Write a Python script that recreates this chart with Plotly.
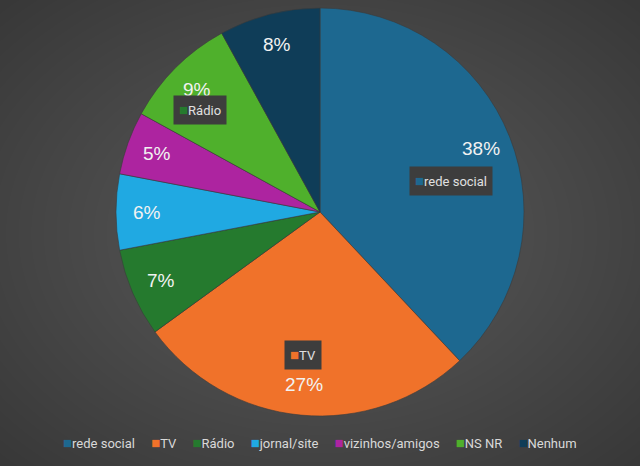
import base64
import struct
import zlib

import numpy as np
import plotly.graph_objects as go

# data
categorias = ["rede social", "TV", "Rádio", "jornal/site", "vizinhos/amigos", "NS NR", "Nenhum"]
percentuais = [38, 27, 7, 6, 5, 9, 8]
cores = ["#1d6890", "#f0722a", "#257a2e", "#20a9e2", "#ad24a0", "#4fb02c", "#0f3d58"]

# category callouts left on the chart (as in the original)
callout_nomes = ["rede social", "TV", "Rádio"]
callout_cores = ["#1d6890", "#f0722a", "#257a2e"]
callout_pos = [(451, 181), (303, 355), (200, 110)]

W, H = 640, 466
cx, cy, R = 320, 212, 204


def fundo_png(w, h):
    # radial grey gradient, lighter around the middle
    yy, xx = np.mgrid[0:h, 0:w]
    d = np.sqrt(((xx - w * 0.5) / (w * 0.5)) ** 2 + ((yy - h * 0.5) / (h * 0.5)) ** 2) / np.sqrt(2)
    g = (92 - 36 * d).clip(0, 255).astype(np.uint8)
    raw = b"".join(b"\x00" + g[i].tobytes() for i in range(h))

    def chunk(tag, data):
        c = struct.pack(">I", len(data)) + tag + data
        return c + struct.pack(">I", zlib.crc32(tag + data) & 0xFFFFFFFF)

    png = b"\x89PNG\r\n\x1a\n"
    png += chunk(b"IHDR", struct.pack(">IIBBBBB", w, h, 8, 0, 0, 0, 0))
    png += chunk(b"IDAT", zlib.compress(raw, 9))
    png += chunk(b"IEND", b"")
    return "data:image/png;base64," + base64.b64encode(png).decode()


def quadrado(cor):
    return f"<span style='color:{cor};font-size:15px'>■</span>"


fig = go.Figure()
fig.add_trace(go.Pie(
    labels=categorias,
    values=percentuais,
    marker=dict(colors=cores, line=dict(color="#3a3a3a", width=0.6)),
    sort=False,
    direction="clockwise",
    rotation=0,
    textinfo="none",
    hoverinfo="label+percent",
    showlegend=False,
    domain=dict(x=[0, 1], y=[(H - cy - R) / H, (H - cy + R) / H]),
))

# percentage labels at ~0.86 of the radius on each slice's mid angle
anots = []
total = sum(percentuais)
acum = 0
for v in percentuais:
    meio = (acum + v / 2) / total * 2 * np.pi
    acum += v
    px = cx + 0.85 * R * np.sin(meio)
    py = cy - 0.85 * R * np.cos(meio)
    anots.append(dict(
        x=px / W, y=1 - py / H, xref="paper", yref="paper",
        xanchor="center", yanchor="middle",
        text=f"{round(v / total * 100)}%", showarrow=False,
        font=dict(family="Liberation Sans, Arial", size=19, color="#f2f2f2"),
    ))

for nome, cor, (px, py) in zip(callout_nomes, callout_cores, callout_pos):
    anots.append(dict(
        x=px / W, y=1 - py / H, xref="paper", yref="paper",
        xanchor="center", yanchor="middle",
        text=quadrado(cor) + nome, showarrow=False,
        bgcolor="#3d3d3d", borderpad=5,
        font=dict(family="Liberation Sans Narrow, Roboto", size=13, color="#e0e0e0"),
    ))

# legend row along the bottom
itens = [quadrado(c) + n for n, c in zip(categorias, cores)]
anots.append(dict(
    x=0.5, y=1 - 443 / H, xref="paper", yref="paper",
    xanchor="center", yanchor="middle",
    text="&nbsp;&nbsp;&nbsp;&nbsp;&nbsp;".join(itens), showarrow=False,
    font=dict(family="Liberation Sans Narrow, Roboto", size=13, color="#d9d9d9"),
))

fig.update_layout(
    width=W, height=H,
    margin=dict(l=0, r=0, t=0, b=0),
    paper_bgcolor="#484848",
    images=[dict(source=fundo_png(W, H), xref="paper", yref="paper", x=0, y=1,
                 sizex=1, sizey=1, sizing="stretch", layer="below")],
    annotations=anots,
    showlegend=False,
)

fig.write_html("out.html", config={"displayModeBar": False},
               post_script="document.body.style.margin='0';")
